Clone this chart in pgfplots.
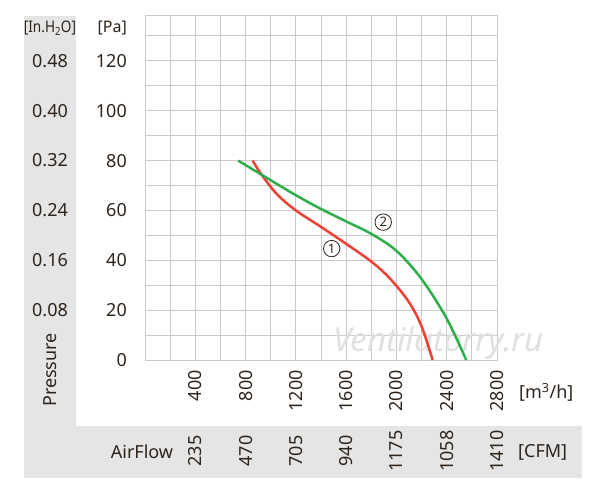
\documentclass[border=0pt]{standalone}
\usepackage{fontspec}
\setmainfont{Noto Sans}
\usepackage{graphicx}
\usepackage{pgfplots}
\pgfplotsset{compat=1.18}
\definecolor{txt}{HTML}{2D241C}
\definecolor{band}{HTML}{E5E5E5}
\definecolor{gridc}{HTML}{CACACA}
\definecolor{cred}{HTML}{EE4035}
\definecolor{cgreen}{HTML}{2DAE4B}
\pgfplotstableread{
q p
856 80
928 74.3
1050 66.5
1200 60
1400 53.4
1600 46.6
1800 39.5
1950 32.6
2100 23.2
2200 13.5
2288 0
}\redcurve
\pgfplotstableread{
q p
741 80
928 74.3
1200 66.1
1400 60.6
1600 55.6
1800 50.6
2000 43.8
2200 32.5
2400 16.6
2555 0
}\greencurve
\begin{document}
\begin{tikzpicture}[x=1pt,y=1pt]
\path (0,0) rectangle (600,488);
\fill[band] (24,10) rectangle (76,472);
\fill[band] (24,10) rectangle (582,62);
\begin{axis}[
  at={(145pt,128pt)}, anchor=south west,
  scale only axis, width=352pt, height=344pt,
  xmin=0, xmax=2800, ymin=0, ymax=138,
  xtick={400,800,1200,1600,2000,2400,2800},
  xticklabels={400,800,1200,1600,2000,2400,2800},
  minor xtick={200,600,1000,1400,1800,2200,2600},
  ytick={0,20,40,60,80,100,120},
  yticklabels={0,20,40,60,80,100,120},
  minor ytick={10,30,50,70,90,110,130},
  grid=both,
  major grid style={gridc, line width=1pt},
  minor grid style={gridc, line width=1pt},
  axis line style={gridc, line width=1pt},
  major tick length=0pt, minor tick length=0pt,
  tick style={draw=none},
  ticklabel style={font=\fontsize{18}{18}\selectfont, text=txt},
  xticklabel style={yshift=-10pt, rotate=90, anchor=east, inner sep=0pt},
  yticklabel style={xshift=-18pt, anchor=east, inner sep=0pt},
  clip=false,
]
\node[text=gray!24, font=\fontsize{33}{33}\selectfont\itshape] at (axis cs:2335,7) {Ventilatorry.ru};
\addplot[cred, line width=2.5pt, smooth, tension=0.55] table[x=q,y=p] {\redcurve};
\addplot[cgreen, line width=2.5pt, smooth, tension=0.55] table[x=q,y=p] {\greencurve};
\node[draw=txt, circle, line width=0.8pt, inner sep=1.6pt, text=txt, font=\fontsize{13}{13}\selectfont] at (axis cs:1485,44.7) {1};
\node[draw=txt, circle, line width=0.8pt, inner sep=1.6pt, text=txt, font=\fontsize{13}{13}\selectfont] at (axis cs:1895,55.3) {2};
\end{axis}
\begin{scope}[every node/.style={text=txt, font=\fontsize{18}{18}\selectfont}]
\foreach \yy/\lab in {20/0.08,40/0.16,60/0.24,80/0.32,100/0.40,120/0.48}{
  \node at (50,{128+\yy*2.4928}) {\lab};
}
\foreach \xx/\lab in {195.3/235,245.6/470,295.9/705,346.1/940,396.4/1175,446.7/1058,497/1410}{
  \node[rotate=90, inner sep=0pt] at (\xx,37) {\lab};
}
\node[rotate=90] at (50,118) {Pressure};
\node at (142,36) {AirFlow};
\node[anchor=west, inner sep=0pt] at (519,96) {[m\textsuperscript{3}/h]};
\node[anchor=west, inner sep=0pt] at (518,36) {[CFM]};
\node[anchor=east, inner sep=0pt, font=\fontsize{16}{16}\selectfont] at (127,460) {[Pa]};
\node[font=\fontsize{16}{16}\selectfont] at (50,460) {\scalebox{0.85}[1]{[In.H\textsubscript{2}O]}};
\end{scope}
\end{tikzpicture}
\end{document}
